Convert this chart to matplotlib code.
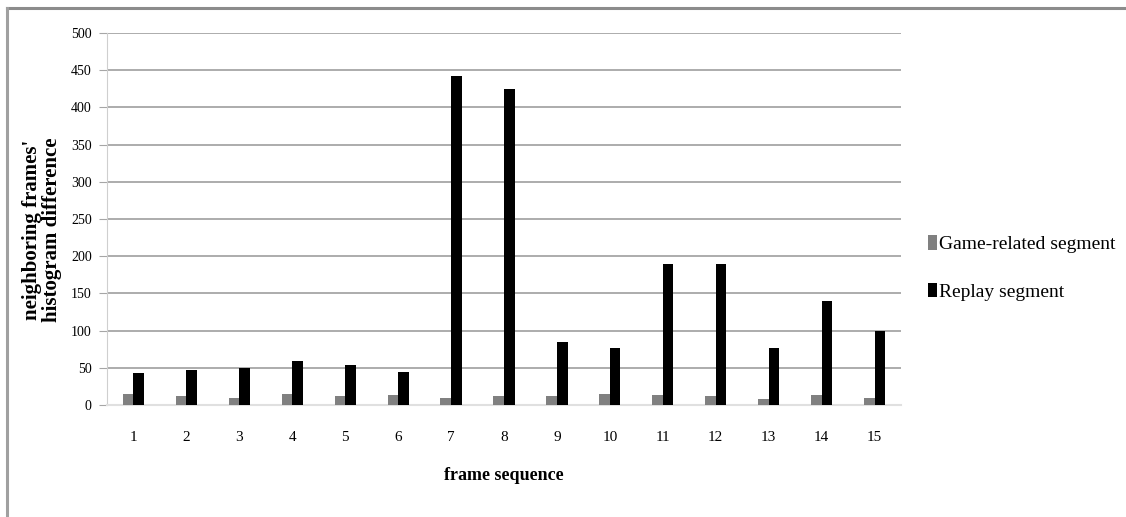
import matplotlib
matplotlib.use("Agg")
import matplotlib.pyplot as plt
import numpy as np
from matplotlib.lines import Line2D
from matplotlib.patches import Patch

frames = [str(i) for i in range(1, 16)]
game_related = [15, 12, 10, 15, 12, 13, 10, 12, 12, 15, 13, 12, 8, 13, 10]
replay = [43, 47, 50, 59, 54, 45, 442, 425, 85, 76, 190, 190, 76, 140, 100]
y_ticks = list(range(0, 501, 50))

plt.rcParams["font.family"] = ["Liberation Serif", "DejaVu Serif"]

fig = plt.figure(figsize=(11.26, 5.17), dpi=100)
ax = fig.add_axes([107 / 1126, 1 - 405 / 517, (901 - 107) / 1126, (405 - 33) / 517])

x = np.arange(len(frames))
w = 0.2
ax.bar(x - w / 2, game_related, w, color="#808080", zorder=3)
ax.bar(x + w / 2, replay, w, color="#000000", zorder=3)

ax.set_xlim(-0.5, len(frames) - 0.5)
ax.set_ylim(0, 500)
ax.set_yticks(y_ticks)
ax.set_xticks(x)
ax.set_xticklabels(frames)
ax.yaxis.grid(True, color="#a6a6a6", lw=1.3, zorder=0)
ax.set_axisbelow(True)
for side in ("top", "right"):
    ax.spines[side].set_visible(False)
ax.spines["left"].set_color("#cfcfcf")
ax.spines["bottom"].set_color("#e0e0e0")
ax.spines["bottom"].set_linewidth(1.5)
ax.tick_params(axis="y", length=6, color="#a6a6a6", labelsize=10, pad=5)
ax.tick_params(axis="x", length=0, labelsize=11, pad=19)

ax.set_xlabel("frame sequence", fontsize=13, fontweight="bold", labelpad=16)
fig.text(42 / 1126, 1 - 230 / 517, "neighboring frames'\nhistogram difference",
         rotation=90, ha="center", va="center", fontsize=15, fontweight="bold",
         linespacing=1.0)

handles = [Patch(facecolor="#808080"), Patch(facecolor="#000000")]
fig.legend(handles, ["Game-related segment", "Replay segment"],
           loc="center left", bbox_to_anchor=(920 / 1126, 1 - 268 / 517),
           frameon=False, fontsize=14, labelspacing=1.5, handlelength=0.45,
           handleheight=0.8, handletextpad=0.15, borderaxespad=0)

# scanned page frame
fig.add_artist(Line2D([7 / 1126, 1], [1 - 8 / 517, 1 - 8 / 517],
                      color="#8c8c8c", lw=2.2, transform=fig.transFigure))
fig.add_artist(Line2D([7 / 1126, 7 / 1126], [0, 1 - 8 / 517],
                      color="#a0a0a0", lw=2.2, transform=fig.transFigure))

fig.savefig("out.png", dpi=100)
